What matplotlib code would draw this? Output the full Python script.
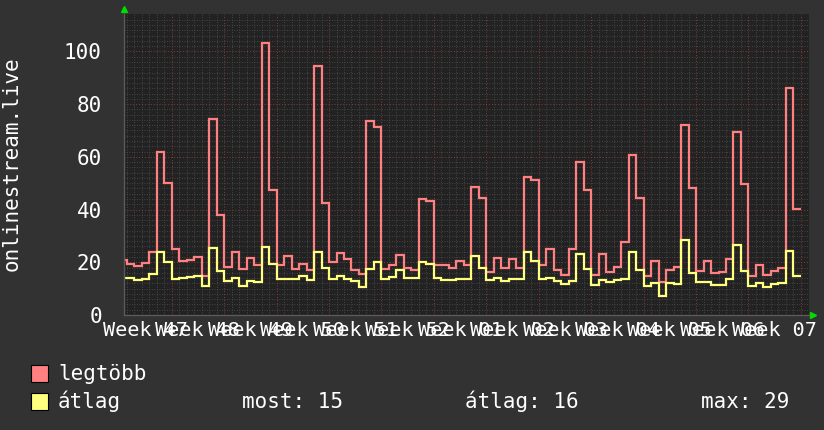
import numpy as np
import matplotlib
matplotlib.use("Agg")
import matplotlib.pyplot as plt
from matplotlib.patches import Rectangle
import matplotlib.transforms as mtransforms

# daily values, first entry is the partial day at the left edge
legtobb = [20.9, 19.4, 18.6, 19.9, 23.8, 61.9, 50.2, 25.0, 20.4, 21.0,
           22.1, 14.8, 74.5, 37.8, 18.3, 23.9, 17.5, 21.6, 18.9, 103.3,
           47.4, 18.8, 22.4, 17.5, 19.4, 17.1, 94.5, 42.4, 20.2, 23.6,
           21.4, 17.1, 15.6, 73.7, 71.5, 17.6, 18.9, 22.8, 18.0, 17.1,
           44.1, 43.4, 18.9, 18.8, 18.0, 20.6, 18.9, 48.7, 44.4, 16.2,
           21.7, 17.8, 21.4, 17.8, 52.5, 51.2, 19.0, 24.9, 17.1, 15.2,
           25.2, 58.2, 47.4, 15.3, 23.1, 16.4, 18.3, 27.6, 60.8, 44.4,
           14.9, 20.4, 12.7, 17.1, 18.3, 71.9, 48.2, 16.8, 20.6, 16.1,
           16.3, 21.4, 69.4, 49.7, 14.9, 19.1, 15.3, 16.8, 17.8, 86.1,
           40.3]
atlag = [14.2, 14.2, 13.3, 13.8, 15.6, 24.0, 20.2, 13.5, 13.9, 14.5,
         14.8, 11.0, 25.4, 16.8, 13.0, 13.9, 11.1, 12.9, 12.7, 25.8,
         19.5, 13.5, 13.8, 13.8, 14.8, 13.3, 24.0, 17.8, 13.5, 14.8,
         13.5, 13.0, 10.6, 17.6, 20.2, 13.5, 14.3, 17.1, 14.2, 14.2,
         20.2, 19.4, 14.2, 13.3, 13.3, 13.8, 13.5, 22.4, 17.8, 13.3,
         14.2, 13.0, 13.8, 13.8, 23.9, 20.4, 13.8, 14.2, 12.8, 11.9,
         12.8, 23.3, 17.6, 11.3, 13.3, 12.4, 13.3, 13.8, 23.9, 17.1,
         11.1, 12.3, 7.3, 12.0, 11.8, 28.5, 16.1, 12.7, 12.7, 11.5,
         11.5, 13.8, 26.7, 16.8, 11.1, 12.3, 10.7, 11.8, 12.3, 24.3,
         14.9]
week_labels = ['Week 47', 'Week 48', 'Week 49', 'Week 50', 'Week 51', 'Week 52',
               'Week 01', 'Week 02', 'Week 03', 'Week 04', 'Week 05', 'Week 06',
               'Week 07']
legend_names = ['legtöbb', 'átlag']
stats = ['most: 15', 'átlag: 16', 'max: 29']

RED = '#ff8080'
YELLOW = '#ffff80'
BG = '#323232'
CANVAS = '#222222'
FONT = ['DejaVu Sans Mono']

plt.rcParams['font.family'] = FONT
plt.rcParams['font.size'] = 15

fig = plt.figure(figsize=(8.24, 4.30), dpi=100, facecolor=BG)
ax = fig.add_axes([124 / 824, 115 / 430, 685 / 824, 301 / 430], facecolor=CANVAS)

edges = np.arange(len(legtobb) + 1) - 1
ax.stairs(legtobb, edges, color=RED, lw=1.6, baseline=None)
ax.stairs(atlag, edges, color=YELLOW, lw=1.6, baseline=None)

ax.set_xlim(-0.37, 91.08)
ax.set_ylim(0, 114.2)

# grid: days / weeks, 2 / 20 units
for d in np.arange(0, 91):
    if d % 7 == 6:
        ax.axvline(d, color='#8a3a3a', lw=0.7, ls=(0, (1, 2)), zorder=0.6)
    else:
        ax.axvline(d, color='#505050', lw=0.6, ls=(0, (1, 2)), zorder=0.5)
for v in np.arange(2, 114, 2):
    if v % 20 == 0:
        ax.axhline(v, color='#8a3a3a', lw=0.7, ls=(0, (1, 2)), zorder=0.6)
    else:
        ax.axhline(v, color='#505050', lw=0.6, ls=(0, (1, 2)), zorder=0.5)

ax.set_yticks(np.arange(0, 101, 20))
ax.set_xticks([])
ax.tick_params(axis='y', colors='white', length=0, pad=16, labelsize=15)
for s in ['top', 'right']:
    ax.spines[s].set_visible(False)
for s in ['left', 'bottom']:
    ax.spines[s].set_color('#5a5a5a')
    ax.spines[s].set_linewidth(1)

# arrows at the axis ends
ax.plot([0], [1.015], marker='^', color='#00dd00', ms=5, transform=ax.transAxes, clip_on=False)
ax.plot([1.006], [0], marker='>', color='#00dd00', ms=5, transform=ax.transAxes, clip_on=False)

# week labels centred mid-week (they overlap, as in rrdtool)
trans = mtransforms.blended_transform_factory(ax.transData, fig.transFigure)
for k, lab in enumerate(week_labels):
    ax.text(2.5 + 7 * k, 1 - 331 / 430, lab, transform=trans, ha='center', va='center',
            color='white', fontsize=14.5)

fig.text(11.5 / 824, 1 - 164 / 430, 'onlinestream.live', rotation=90, ha='center',
         va='center', color='white', fontsize=15)

# legend
rows = [373.5, 401.5]
for name, col, y in zip(legend_names, [RED, YELLOW], rows):
    fig.patches.append(Rectangle((31 / 824, 1 - (y + 8.3) / 430), 16.7 / 824, 16.7 / 430,
                                 transform=fig.transFigure, facecolor=col,
                                 edgecolor='black', lw=0.8))
    fig.text(58 / 824, 1 - y / 430, name, ha='left', va='center', color='white', fontsize=15)
for txt, x in zip(stats, [242, 465, 701]):
    fig.text(x / 824, 1 - rows[1] / 430, txt, ha='left', va='center', color='white', fontsize=15)

fig.savefig('out.png', dpi=100, facecolor=BG)
